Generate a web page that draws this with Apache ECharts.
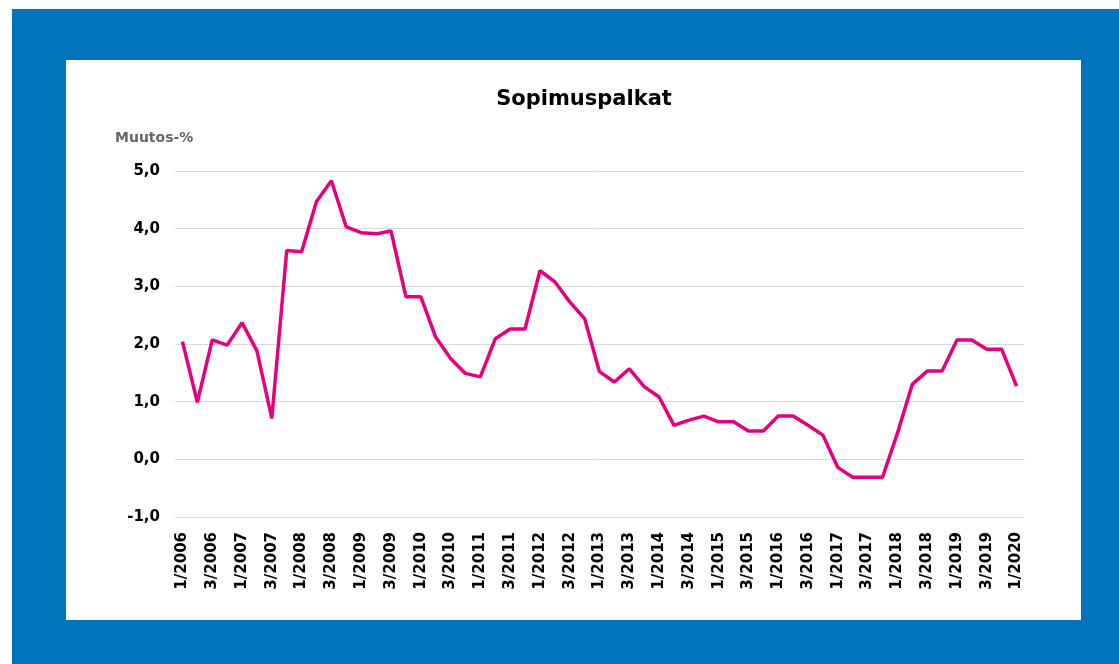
<!DOCTYPE html>
<html>
<head>
<meta charset="utf-8">
<script src="https://cdn.jsdelivr.net/npm/echarts@6/dist/echarts.min.js"></script>
<style>
html, body { margin: 0; padding: 0; background: #fff; }
#frame { position: absolute; left: 12px; top: 9px; width: 1107px; height: 655px; background: #0074BC; }
#panel { position: absolute; left: 66px; top: 60px; width: 1015px; height: 560px; background: #fff; }
#main { position: absolute; left: 0; top: 0; width: 1119px; height: 664px; }
</style>
</head>
<body>
<div id="frame"></div>
<div id="panel"></div>
<div id="main"></div>
<script>
// neljännekset 1/2006 ... 1/2020
var quarters = [];
for (var y = 2006; y <= 2020; y++) {
    for (var q = 1; q <= 4; q++) {
        if (y == 2020 && q > 1) break;
        quarters.push(q + '/' + y);
    }
}

var palkat = [
    2.04, 0.99, 2.07, 1.98, 2.37, 1.88, 0.71, 3.62,
    3.60, 4.47, 4.83, 4.03, 3.93, 3.91, 3.96, 2.82,
    2.82, 2.12, 1.75, 1.49, 1.43, 2.09, 2.26, 2.26,
    3.27, 3.08, 2.73, 2.44, 1.52, 1.34, 1.57, 1.26,
    1.08, 0.59, 0.68, 0.75, 0.65, 0.65, 0.49, 0.49,
    0.75, 0.75, 0.59, 0.42, -0.14, -0.31, -0.31, -0.31,
    0.45, 1.30, 1.53, 1.53, 2.07, 2.07, 1.91, 1.91,
    1.27
];

var myChart = echarts.init(document.getElementById('main'));
option = {
    backgroundColor: 'transparent',
    animation: false,
    title: {
        text: 'Sopimuspalkat',
        left: 579,
        textAlign: 'center',
        top: 84,
        textStyle: {
            fontFamily: 'DejaVu Sans',
            fontWeight: 'bold',
            fontSize: 21,
            color: '#000'
        }
    },
    grid: {
        left: 175,
        right: 95,
        top: 171,
        bottom: 147
    },
    xAxis: {
        type: 'category',
        boundaryGap: true,
        data: quarters,
        axisLine: { show: true, lineStyle: { color: '#d9d9d9' } },
        axisTick: { show: false },
        axisLabel: {
            interval: 1,
            rotate: 90,
            margin: 15,
            fontFamily: 'DejaVu Sans',
            fontWeight: 'bold',
            fontSize: 15,
            color: '#000'
        }
    },
    yAxis: {
        type: 'value',
        min: -1,
        max: 5,
        interval: 1,
        name: 'Muutos-%',
        nameLocation: 'end',
        nameGap: 26,
        nameTextStyle: {
            align: 'left',
            padding: [0, 0, 0, -60],
            fontFamily: 'DejaVu Sans',
            fontWeight: 'bold',
            fontSize: 14,
            color: '#666'
        },
        axisLine: { show: false },
        axisTick: { show: false },
        splitLine: { lineStyle: { color: '#d9d9d9', width: 1 } },
        axisLabel: {
            margin: 15,
            fontFamily: 'DejaVu Sans',
            fontWeight: 'bold',
            fontSize: 15,
            color: '#000',
            formatter: function (v) { return v.toFixed(1).replace('.', ','); }
        }
    },
    series: [{
        name: 'Sopimuspalkat',
        type: 'line',
        data: palkat,
        symbol: 'none',
        lineStyle: { color: '#E6007E', width: 3.5 },
        itemStyle: { color: '#E6007E' }
    }]
};
myChart.setOption(option);
</script>
</body>
</html>
